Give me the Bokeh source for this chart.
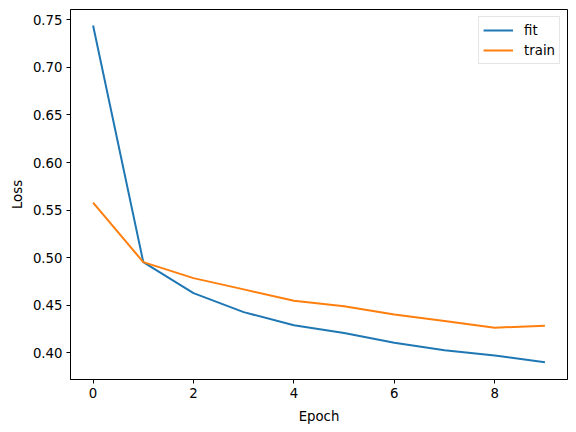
from bokeh.plotting import figure
from bokeh.models import FixedTicker, PrintfTickFormatter, Range1d, Legend, LegendItem
from bokeh.embed import file_html
from bokeh.resources import INLINE

epochs = [0, 1, 2, 3, 4, 5, 6, 7, 8, 9]
fit_loss = [0.744, 0.4954, 0.4629, 0.4429, 0.4290, 0.4209, 0.4108, 0.4029, 0.3973, 0.3902]
train_loss = [0.558, 0.4954, 0.4786, 0.4668, 0.4548, 0.4490, 0.4403, 0.4335, 0.4265, 0.4286]
x_ticks = [0, 2, 4, 6, 8]
y_ticks = [0.40, 0.45, 0.50, 0.55, 0.60, 0.65, 0.70, 0.75]

FONT = "DejaVu Sans"

p = figure(width=576, height=432, output_backend="svg", toolbar_location=None,
           x_range=Range1d(-0.45, 9.45), y_range=Range1d(0.3721, 0.7608),
           min_border_left=70, min_border_right=9, min_border_top=9, min_border_bottom=53)
p.xgrid.visible = False
p.ygrid.visible = False
p.outline_line_color = "black"
p.outline_line_width = 1
p.background_fill_color = "white"
p.border_fill_color = "white"

r1 = p.line(epochs, fit_loss, line_color="#1f77b4", line_width=2)
r2 = p.line(epochs, train_loss, line_color="#ff7f0e", line_width=2)

p.xaxis.ticker = FixedTicker(ticks=x_ticks)
p.yaxis.ticker = FixedTicker(ticks=y_ticks)
p.yaxis.formatter = PrintfTickFormatter(format="%.2f")
p.xaxis.axis_label = "Epoch"
p.yaxis.axis_label = "Loss"
for ax in (p.xaxis, p.yaxis):
    ax.axis_label_text_font = FONT
    ax.axis_label_text_font_size = "13.3px"
    ax.axis_label_text_font_style = "normal"
    ax.axis_label_text_color = "black"
    ax.major_label_text_font = FONT
    ax.major_label_text_font_size = "13.3px"
    ax.major_label_text_color = "black"
    ax.axis_line_color = "black"
    ax.major_tick_line_color = "black"
    ax.major_tick_out = 4
    ax.major_tick_in = 0
    ax.minor_tick_out = 0
    ax.minor_tick_in = 0
    ax.major_label_standoff = 4
p.xaxis.axis_label_standoff = 8
p.yaxis.axis_label_standoff = 5

legend = Legend(items=[LegendItem(label="fit", renderers=[r1]),
                       LegendItem(label="train", renderers=[r2])],
                location="top_right")
legend.label_text_font = FONT
legend.label_text_font_size = "13.3px"
legend.label_text_color = "black"
legend.border_line_color = "#cccccc"
legend.border_line_width = 1
legend.margin = 7
legend.padding = 4
legend.spacing = 2
legend.glyph_width = 30
legend.glyph_height = 18
legend.label_height = 18
legend.label_standoff = 11
p.add_layout(legend)

open("out.html", "w").write(file_html(p, INLINE))
